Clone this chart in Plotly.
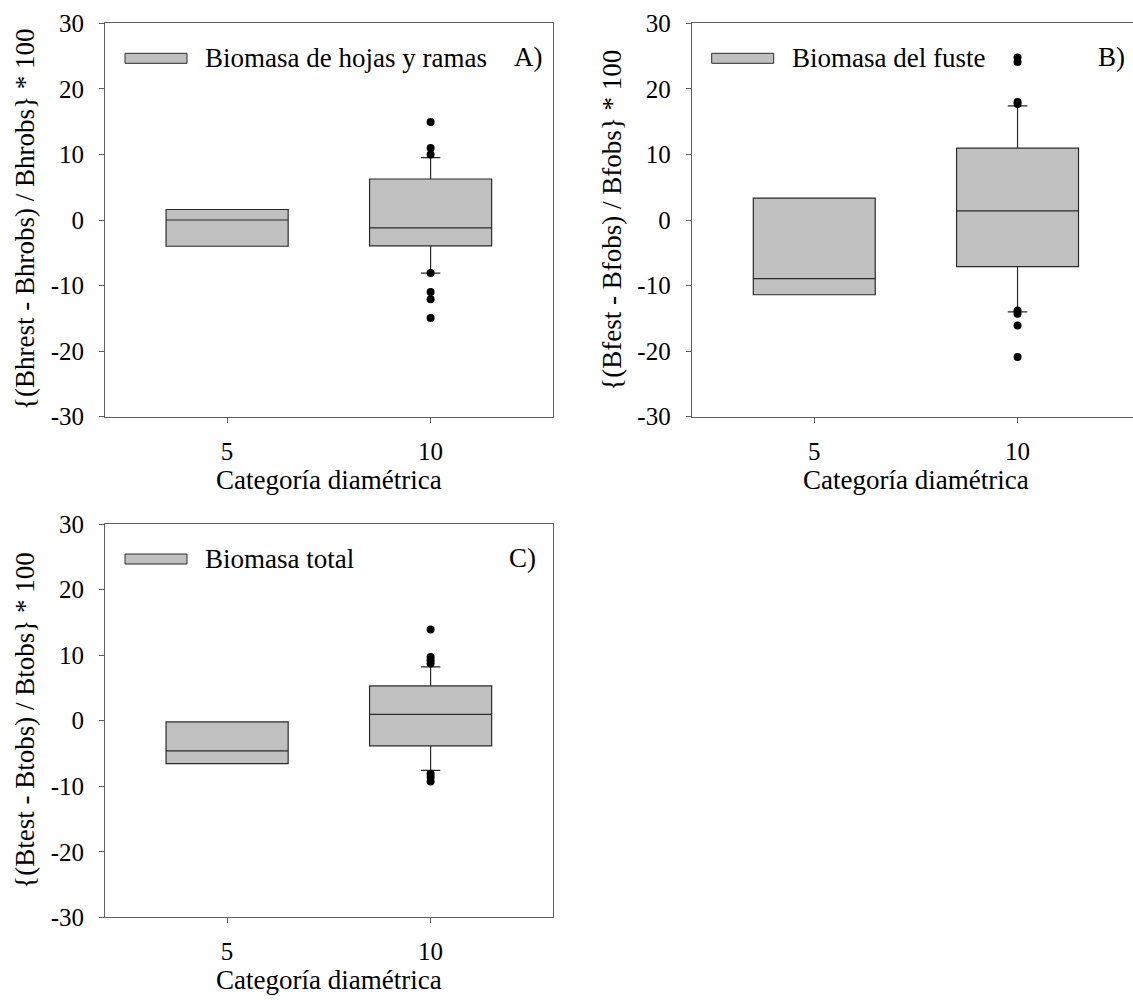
import plotly.graph_objects as go

W, H = 1133, 1000

# ---------------- data ----------------
categories = ["5", "10"]

# Panel A: Biomasa de hojas y ramas
a_q1 = [-4.0, -3.95]
a_median = [0.0, -1.2]
a_q3 = [1.6, 6.25]
a_low = [-4.0, -8.1]
a_high = [1.6, 9.5]
a_out_x = ["10", "10", "10", "10", "10", "10", "10"]
a_out_y = [14.95, 11.0, 10.0, -8.1, -11.0, -12.1, -14.95]

# Panel B: Biomasa del fuste
b_q1 = [-11.4, -7.1]
b_median = [-8.95, 1.4]
b_q3 = [3.35, 10.95]
b_low = [-11.4, -14.0]
b_high = [3.35, 17.4]
b_out_x = ["10", "10", "10", "10", "10", "10", "10", "10"]
b_out_y = [24.8, 24.1, 18.0, 17.7, -13.8, -14.3, -16.1, -20.9]

# Panel C: Biomasa total
c_q1 = [-6.55, -3.85]
c_median = [-4.6, 0.95]
c_q3 = [-0.2, 5.3]
c_low = [-6.55, -7.6]
c_high = [-0.2, 8.2]
c_out_x = ["10", "10", "10", "10", "10", "10", "10"]
c_out_y = [13.9, 9.7, 9.2, 8.7, -8.1, -8.6, -9.3]

y_ticks = [-30, -20, -10, 0, 10, 20, 30]
y_tick_labels = ["-30", "-20", "-10", "0", "10", "20", "30"]

legend_names = ["Biomasa de hojas y ramas", "Biomasa del fuste", "Biomasa total"]
panel_labels = ["A)", "B)", "C)"]
y_titles = ["{(Bhrest - Bhrobs) / Bhrobs} * 100",
            "{(Bfest - Bfobs) / Bfobs} * 100",
            "{(Btest - Btobs) / Btobs} * 100"]
x_title = "Categoría diamétrica"

# ---------------- styling ----------------
FONT = "Liberation Serif, Times New Roman, serif"
FILL = "#c0c0c0"
EDGE = "#2a2a2a"
AXC = "#606060"
FS = 27
TFS = 25


def px(x):
    return x / W


def py(y):
    return 1 - y / H


fig = go.Figure()

panels = [
    dict(q1=a_q1, med=a_median, q3=a_q3, lo=a_low, hi=a_high, ox=a_out_x, oy=a_out_y,
         xa="x", ya="y", left=105, right=552.7, top=23.3, bottom=416.7, xr=[-0.6, 1.6]),
    dict(q1=b_q1, med=b_median, q3=b_q3, lo=b_low, hi=b_high, ox=b_out_x, oy=b_out_y,
         xa="x2", ya="y2", left=691.7, right=1133, top=23.3, bottom=416.7, xr=[-0.603, 1.568]),
    dict(q1=c_q1, med=c_median, q3=c_q3, lo=c_low, hi=c_high, ox=c_out_x, oy=c_out_y,
         xa="x3", ya="y3", left=105, right=552.7, top=524, bottom=917.3, xr=[-0.6, 1.6]),
]

annotations = []
shapes = []

for i, p in enumerate(panels):
    fig.add_trace(go.Box(
        x=categories, q1=p["q1"], median=p["med"], q3=p["q3"],
        lowerfence=p["lo"], upperfence=p["hi"],
        fillcolor=FILL, line=dict(color=EDGE, width=1.2),
        width=0.6, whiskerwidth=0.16, boxpoints=False,
        xaxis=p["xa"], yaxis=p["ya"], showlegend=False, hoverinfo="skip",
    ))
    fig.add_trace(go.Scatter(
        x=p["ox"], y=p["oy"], mode="markers",
        marker=dict(color="black", size=8),
        xaxis=p["xa"], yaxis=p["ya"], showlegend=False, hoverinfo="skip",
    ))

    sfx = "" if i == 0 else str(i + 1)
    xdom = [px(p["left"]), min(1.0, px(p["right"]))]
    ydom = [py(p["bottom"]), py(p["top"])]
    fig.update_layout(**{
        "xaxis" + sfx: dict(
            domain=xdom, type="category", categoryorder="array", categoryarray=categories,
            range=p["xr"], showline=True, linecolor=AXC, linewidth=1, mirror=True,
            ticks="outside", ticklen=5, tickcolor=AXC, showgrid=False, zeroline=False,
            tickfont=dict(family=FONT, size=TFS, color="black"), ticklabelstandoff=7,
            anchor="y" + sfx, automargin=False,
        ),
        "yaxis" + sfx: dict(
            domain=ydom, range=[-30, 30], tickvals=y_ticks, ticktext=y_tick_labels,
            showline=True, linecolor=AXC, linewidth=1, mirror=(i != 1),
            ticks="outside", ticklen=5, tickcolor=AXC, showgrid=False, zeroline=False,
            tickfont=dict(family=FONT, size=TFS, color="black"), ticklabelstandoff=10,
            anchor="x" + sfx, automargin=False,
        ),
    })

    # axis titles
    xc = (p["left"] + (p["right"] if i != 1 else 1140.4)) / 2
    annotations.append(dict(
        x=px(xc), y=py(p["bottom"] + 63), xref="paper", yref="paper",
        text=x_title, showarrow=False, xanchor="center", yanchor="middle",
        font=dict(family=FONT, size=FS, color="black"),
    ))
    annotations.append(dict(
        x=px(p["left"] - 80), y=py((p["top"] + p["bottom"]) / 2), xref="paper", yref="paper",
        text=y_titles[i], showarrow=False, textangle=-90, xanchor="center", yanchor="middle",
        font=dict(family=FONT, size=FS, color="black"),
    ))
    # legend (manual)
    ly = p["top"] + 35
    shapes.append(dict(
        type="rect", xref="paper", yref="paper",
        x0=px(p["left"] + 20), x1=px(p["left"] + 82), y0=py(ly - 5), y1=py(ly + 5),
        fillcolor=FILL, line=dict(color=EDGE, width=1),
    ))
    annotations.append(dict(
        x=px(p["left"] + 98), y=py(ly), xref="paper", yref="paper",
        text=legend_names[i], showarrow=False, xanchor="left", yanchor="middle",
        font=dict(family=FONT, size=FS, color="black"),
    ))
    lab_right = {0: 545, 1: 1127, 2: 538}[i]
    annotations.append(dict(
        x=px(lab_right), y=py(ly - 1), xref="paper", yref="paper",
        text=panel_labels[i], showarrow=False, xanchor="right", yanchor="middle",
        font=dict(family=FONT, size=FS, color="black"),
    ))

fig.update_layout(
    width=W, height=H,
    margin=dict(l=0, r=0, t=0, b=0, autoexpand=False),
    paper_bgcolor="white", plot_bgcolor="white",
    showlegend=False,
    annotations=annotations, shapes=shapes,
    font=dict(family=FONT, size=FS, color="black"),
)

fig.write_html(
    "out.html",
    config={"displayModeBar": False},
    post_script="document.body.style.margin='0';document.body.style.padding='0';"
                "document.body.style.overflow='hidden';",
)
